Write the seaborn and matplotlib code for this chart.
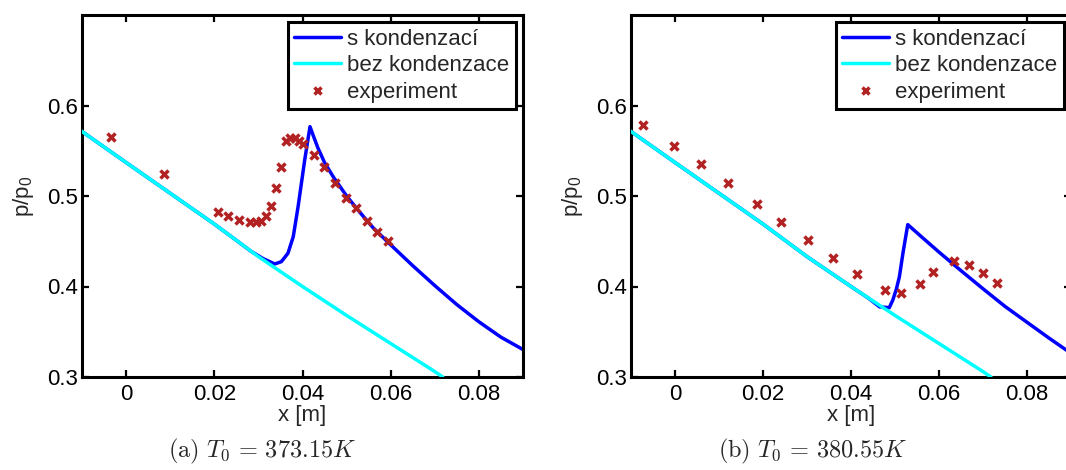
import matplotlib
matplotlib.use("Agg")
import matplotlib.pyplot as plt
import numpy as np
import pandas as pd
import seaborn as sns

# ---------------- data ----------------
# model without condensation (same in both panels)
cyan_x = [-0.0105, 0.0, 0.01, 0.02, 0.03, 0.04, 0.05, 0.06, 0.07, 0.0718]
cyan_y = [0.573, 0.537, 0.503, 0.469, 0.433, 0.400, 0.368, 0.337, 0.306, 0.300]

# panel (a): T0 = 373.15 K
blue_a_x = [-0.0105, 0.0, 0.01, 0.02, 0.025, 0.0283, 0.031, 0.0337, 0.0352, 0.0367,
            0.0379, 0.039, 0.0405, 0.0417, 0.0425, 0.0435, 0.045, 0.047, 0.050,
            0.053, 0.056, 0.060, 0.065, 0.070, 0.075, 0.080, 0.085, 0.0905]
blue_a_y = [0.573, 0.537, 0.503, 0.469, 0.451, 0.439, 0.431, 0.4249, 0.4274, 0.4367,
            0.455, 0.4882, 0.5398, 0.5766, 0.566, 0.553, 0.537, 0.521, 0.500,
            0.482, 0.465, 0.446, 0.423, 0.401, 0.380, 0.361, 0.344, 0.329]
exp_a_x = [-0.0034, 0.0087, 0.0208, 0.0232, 0.0256, 0.0280, 0.0294, 0.0306, 0.0317,
           0.0328, 0.0340, 0.0352, 0.0363, 0.0372, 0.0382, 0.0392, 0.0402, 0.0425,
           0.0449, 0.0473, 0.0498, 0.0521, 0.0546, 0.0570, 0.0595]
exp_a_y = [0.565, 0.524, 0.482, 0.478, 0.4735, 0.4713, 0.4716, 0.4727, 0.4779,
           0.489, 0.5085, 0.5324, 0.5611, 0.5637, 0.5637, 0.5611, 0.557, 0.545,
           0.5324, 0.514, 0.498, 0.4864, 0.4727, 0.460, 0.4503]

# panel (b): T0 = 380.55 K
blue_b_x = [-0.0105, 0.0, 0.01, 0.02, 0.03, 0.04, 0.044, 0.0465, 0.0487, 0.0495,
            0.0503, 0.051, 0.0518, 0.0529, 0.056, 0.060, 0.065, 0.070, 0.075,
            0.080, 0.085, 0.0905]
blue_b_y = [0.573, 0.537, 0.503, 0.469, 0.433, 0.400, 0.387, 0.3775, 0.3766, 0.385,
            0.397, 0.4108, 0.4367, 0.4684, 0.455, 0.438, 0.4175, 0.3975, 0.378,
            0.3605, 0.343, 0.3245]
exp_b_x = [-0.0072, -0.0002, 0.0058, 0.0120, 0.0186, 0.0242, 0.0302, 0.0360, 0.0414,
           0.0478, 0.0514, 0.0557, 0.0587, 0.0633, 0.0668, 0.0701, 0.0731]
exp_b_y = [0.579, 0.5556, 0.5354, 0.514, 0.4911, 0.4713, 0.4514, 0.431, 0.4138,
           0.3961, 0.3925, 0.4024, 0.4157, 0.4282, 0.4238, 0.4146, 0.4042]

xticks = [0.0, 0.02, 0.04, 0.06, 0.08]
xtick_labels = ["0", "0.02", "0.04", "0.06", "0.08"]
yticks = [0.3, 0.4, 0.5, 0.6]
ytick_labels = ["0.3", "0.4", "0.5", "0.6"]
labels = ["s kondenzací", "bez kondenzace", "experiment"]
captions = [r"$\mathrm{(a)}\ T_0\,=\,373.15K$", r"$\mathrm{(b)}\ T_0\,=\,380.55K$"]

# ---------------- style ----------------
sns.set_theme(style="ticks")
plt.rcParams["font.family"] = ["Liberation Sans", "DejaVu Sans"]
plt.rcParams["mathtext.fontset"] = "custom"
plt.rcParams["mathtext.rm"] = "Liberation Sans"
plt.rcParams["mathtext.it"] = "Liberation Sans:italic"

FS = 16
BLUE = "#0000FF"
CYAN = "#00FFFF"
RED = "#B22222"

fig = plt.figure(figsize=(10.66, 4.70), dpi=100)
ax_a = fig.add_axes([82 / 1066, 93 / 470, 441 / 1066, 362 / 470])
ax_b = fig.add_axes([631 / 1066, 93 / 470, 440 / 1066, 362 / 470])

panels = [
    (ax_a, blue_a_x, blue_a_y, exp_a_x, exp_a_y, captions[0], 262),
    (ax_b, blue_b_x, blue_b_y, exp_b_x, exp_b_y, captions[1], 813),
]

for ax, bx, by, ex, ey, cap, cx in panels:
    df_blue = pd.DataFrame({"x": bx, "y": by})
    df_cyan = pd.DataFrame({"x": cyan_x, "y": cyan_y})
    df_exp = pd.DataFrame({"x": ex, "y": ey})
    sns.lineplot(data=df_blue, x="x", y="y", ax=ax, color=BLUE, lw=2.5,
                 sort=False, estimator=None, label=labels[0], zorder=2)
    sns.lineplot(data=df_cyan, x="x", y="y", ax=ax, color=CYAN, lw=2.5,
                 sort=False, estimator=None, label=labels[1], zorder=3)
    ax.plot(df_exp["x"], df_exp["y"], ls="none", marker="x", ms=6.3, mew=2.5,
            color=RED, label=labels[2], zorder=4)

    ax.set_xlim(-0.01, 0.09)
    ax.set_ylim(0.3, 0.7)
    ax.set_xticks(xticks)
    ax.set_xticklabels(xtick_labels)
    ax.set_yticks(yticks)
    ax.set_yticklabels(ytick_labels)
    ax.tick_params(direction="in", length=5, width=1.6, top=True, right=True,
                   labelsize=FS, colors="black", pad=5)
    ax.tick_params(axis="y", pad=3)
    for s in ax.spines.values():
        s.set_linewidth(2.2)
        s.set_color("black")
        s.set_visible(True)
    ax.set_xlabel("x [m]", fontsize=FS, labelpad=0)
    ax.set_ylabel("p/p$_0$", fontsize=FS, labelpad=8)
    ax.grid(False)

    leg = ax.legend(loc="upper right", fontsize=FS, frameon=True, fancybox=False,
                    framealpha=1, edgecolor="black", borderaxespad=0.33,
                    borderpad=0.28, labelspacing=0.25, handlelength=2.1,
                    handletextpad=0.3, markerscale=0.8)
    leg.get_frame().set_linewidth(2.2)

    fig.text(cx / 1066, 19 / 470, cap, ha="center", va="center", fontsize=17.5,
             math_fontfamily="cm")

fig.savefig("out.png", dpi=100)
